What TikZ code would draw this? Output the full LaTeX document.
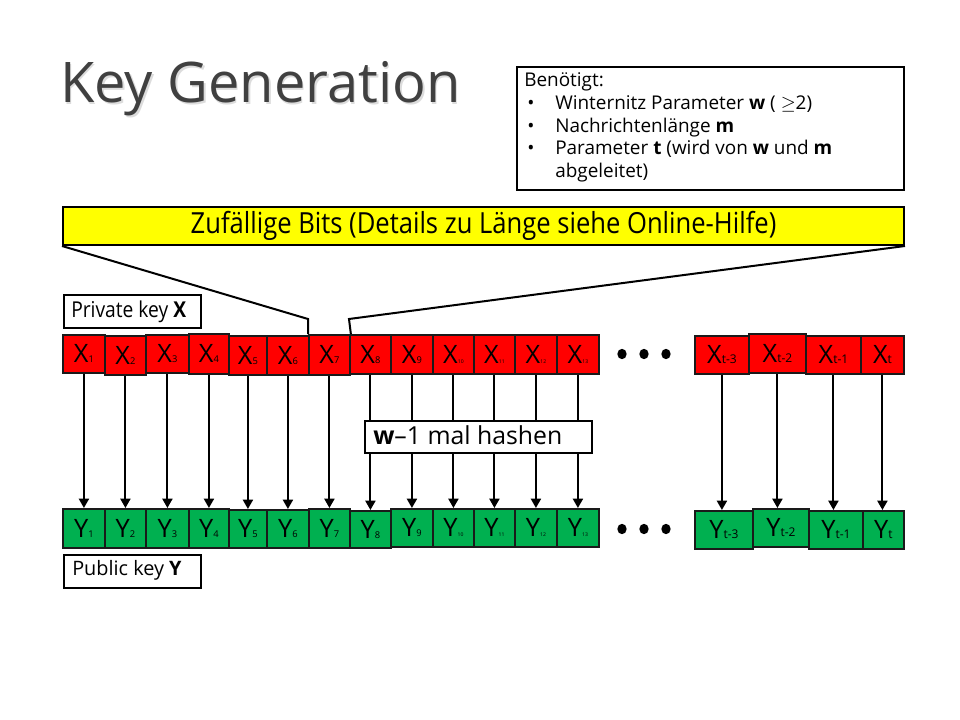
\documentclass[tikz,border=0pt]{standalone}
\usepackage{fontspec}
\setmainfont{Open Sans}
\newfontfamily\condfont[FakeStretch=0.88]{Open Sans}
\usetikzlibrary{arrows.meta}

\definecolor{keyred}{HTML}{FF0000}
\definecolor{keygreen}{HTML}{00B050}
\definecolor{bitsyellow}{HTML}{FFFF00}
\definecolor{titlegray}{HTML}{404040}
\definecolor{edgedark}{HTML}{1A1A1A}

% one key cell: style, name, left, right, top, bottom, text
\newcommand{\keycell}[7]{%
  \node[#1, minimum width={(#4-#3)*0.75pt}, minimum height={(#6-#5)*0.75pt}] (#2) at (#3,#5) {#7};}
% letter with a small index on the baseline
\newcommand{\cellname}[3]{{\fontsize{19}{19}\selectfont #1}{\fontsize{#3}{#3}\selectfont #2}}

\begin{document}
\begin{tikzpicture}[x=0.75pt,y=-0.75pt,
  cellbox/.style={draw=edgedark, line width=1.4pt, inner sep=0pt, anchor=north west},
  privcell/.style={cellbox, fill=keyred},
  pubcell/.style={cellbox, fill=keygreen},
  framebox/.style={draw=black, line width=1.5pt, fill=white, inner sep=0pt, anchor=north west},
  hasharrow/.style={line width=1.5pt, -{Triangle[length=7pt,width=7.5pt]}},
  funnel/.style={line width=1.5pt},
  infotext/.style={anchor=base west, inner sep=0pt, font=\fontsize{14.2}{16}\selectfont},
  dotmark/.style={fill=black}
]
\useasboundingbox (0,0) rectangle (960,720);

% heading with a soft shadow
\node[anchor=base west, inner sep=0pt, text=black!30, opacity=0.45,
      font=\fontsize{42}{46}\selectfont] (titleshadow) at (61.5,104.5) {Key Generation};
\node[anchor=base west, inner sep=0pt, text=titlegray,
      font=\fontsize{42}{46}\selectfont] (title) at (60,103) {Key Generation};

% requirements box
\node[framebox, minimum width={(903-516)*0.75pt}, minimum height={(189-66)*0.75pt}] (needs) at (516,66) {};
\node[infotext] (need0) at (524,87) {Benötigt:};
\node[infotext] (b1) at (527,110) {•};
\node[infotext] (need1) at (555,110) {Winternitz Parameter \textbf{w} ( \ensuremath{\geq}2)};
\node[infotext] (b2) at (527,132.5) {•};
\node[infotext] (need2) at (555,132.5) {Nachrichtenlänge \textbf{m}};
\node[infotext] (b3) at (527,155) {•};
\node[infotext] (need3) at (555,155) {Parameter \textbf{t} (wird von \textbf{w} und \textbf{m}};
\node[infotext] (need4) at (555,177.5) {abgeleitet)};

% random bits bar
\node[framebox, fill=bitsyellow, minimum width={(903-62)*0.75pt}, minimum height={(244-206)*0.75pt},
      font=\condfont\fontsize{21.8}{23}\selectfont] (bits) at (62,206) {Zufällige Bits (Details zu Länge siehe Online-Hilfe)};

% private key label
\node[framebox, minimum width={(200-63)*0.75pt}, minimum height={(327-294)*0.75pt}] (privlabel) at (63,294) {};
\node[anchor=base west, inner sep=0pt, font=\condfont\fontsize{16.4}{18}\selectfont] (privtext) at (71,317) {Private key \textbf{X}};

% private key cells
\keycell{privcell}{x1}{62}{104}{334}{372}{\cellname{X}{1}{7}}
\keycell{privcell}{x2}{104}{145}{335}{374}{\cellname{X}{2}{7}}
\keycell{privcell}{x3}{145}{188}{334}{372}{\cellname{X}{3}{7}}
\keycell{privcell}{x4}{188}{228}{333}{373}{\cellname{X}{4}{7}}
\keycell{privcell}{x5}{228}{266}{335}{374}{\cellname{X}{5}{7}}
\keycell{privcell}{x6}{266}{308}{335}{374}{\cellname{X}{6}{7}}
\keycell{privcell}{x7}{308}{349}{334}{374}{\cellname{X}{7}{7}}
\keycell{privcell}{x8}{349}{390}{334}{373}{\cellname{X}{8}{7}}
\keycell{privcell}{x9}{390}{432}{334}{373}{\cellname{X}{9}{7}}
\keycell{privcell}{x10}{432}{473}{334}{373}{\cellname{X}{10}{3.8}}
\keycell{privcell}{x11}{473}{514}{334}{373}{\cellname{X}{11}{3.8}}
\keycell{privcell}{x12}{514}{556}{334}{373}{\cellname{X}{12}{3.8}}
\keycell{privcell}{x13}{556}{598}{334}{373}{\cellname{X}{13}{3.8}}
\keycell{privcell}{xa}{694}{748}{335}{373}{\cellname{X}{t-3}{9}}
\keycell{privcell}{xb}{748}{805}{333}{372}{\cellname{X}{t-2}{9}}
\keycell{privcell}{xc}{805}{860}{335}{373}{\cellname{X}{t-1}{9}}
\keycell{privcell}{xd}{860}{903}{335}{373}{\cellname{X}{t}{9}}

% public key cells
\keycell{pubcell}{y1}{62}{104}{508}{547}{\cellname{Y}{1}{7}}
\keycell{pubcell}{y2}{104}{145}{508}{547}{\cellname{Y}{2}{7}}
\keycell{pubcell}{y3}{145}{188}{508}{547}{\cellname{Y}{3}{7}}
\keycell{pubcell}{y4}{188}{228}{508}{547}{\cellname{Y}{4}{7}}
\keycell{pubcell}{y5}{228}{266}{509}{547}{\cellname{Y}{5}{7}}
\keycell{pubcell}{y6}{266}{308}{509}{547}{\cellname{Y}{6}{7}}
\keycell{pubcell}{y7}{308}{349}{508}{547}{\cellname{Y}{7}{7}}
\keycell{pubcell}{y8}{349}{390}{510}{547}{\cellname{Y}{8}{7}}
\keycell{pubcell}{y9}{390}{432}{508}{546}{\cellname{Y}{9}{7}}
\keycell{pubcell}{y10}{432}{473}{508}{546}{\cellname{Y}{10}{3.8}}
\keycell{pubcell}{y11}{473}{514}{508}{546}{\cellname{Y}{11}{3.8}}
\keycell{pubcell}{y12}{514}{556}{508}{546}{\cellname{Y}{12}{3.8}}
\keycell{pubcell}{y13}{556}{598}{508}{546}{\cellname{Y}{13}{3.8}}
\keycell{pubcell}{ya}{694}{752}{510}{548}{\cellname{Y}{t-3}{9}}
\keycell{pubcell}{yb}{752}{808}{508}{546}{\cellname{Y}{t-2}{9}}
\keycell{pubcell}{yc}{808}{862}{510}{548}{\cellname{Y}{t-1}{9}}
\keycell{pubcell}{yd}{862}{903}{510}{548}{\cellname{Y}{t}{9}}

% public key label
\node[framebox, minimum width={(200-63)*0.75pt}, minimum height={(587-554)*0.75pt}] (publabel) at (63,554) {};
\node[anchor=base west, inner sep=0pt, font=\fontsize{14.9}{16}\selectfont] (pubtext) at (72,575) {Public key \textbf{Y}};

% ellipsis dots between the two groups
\foreach \dx in {622,644,666}{
  \fill[dotmark] (\dx,354) ellipse [x radius=3.5pt, y radius=3.9pt];
  \fill[dotmark] (\dx,529) ellipse [x radius=3.5pt, y radius=3.9pt];
}

% funnel from the random bits into the key row
\coordinate (lbend) at (308,319);
\coordinate (rbend) at (349,319);
\draw[funnel] (bits.south west) -- (lbend) -- (x7.north west);
\draw[funnel] (bits.south east) -- (rbend) -- (x7.north east);

% hash chains from each private cell to its public cell
\foreach \k in {1,...,13,a,b,c,d}{
  \draw[hasharrow] (x\k.south) -- (x\k.south |- y\k.north);
}

% label over the hash chains
\node[framebox, minimum width={(591-364)*0.75pt}, minimum height={(452-420)*0.75pt}] (hashbox) at (364,420) {};
\node[anchor=base west, inner sep=0pt, font=\fontsize{18.6}{20}\selectfont] (hashtext) at (373,444.5) {\textbf{w}–1 mal hashen};

\end{tikzpicture}
\end{document}
